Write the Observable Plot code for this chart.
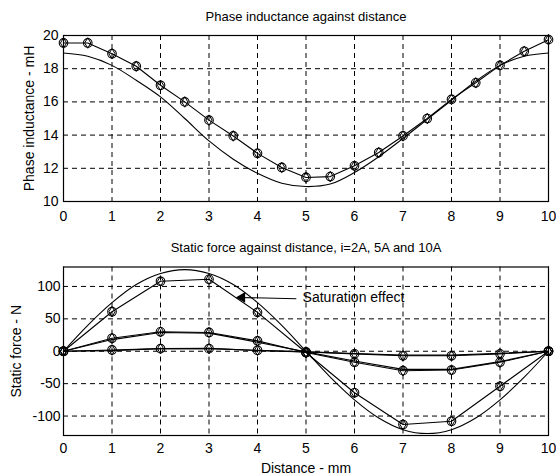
<!DOCTYPE html>
<html>
<head>
<meta charset="utf-8">
<script src="https://cdn.jsdelivr.net/npm/d3@7"></script>
<script src="https://cdn.jsdelivr.net/npm/@observablehq/plot@0.6"></script>
<style>
  html, body { margin: 0; padding: 0; background: #fff; }
  #chart { width: 556px; height: 475px; position: relative; overflow: hidden; }
  #chart svg { display: block; }
</style>
</head>
<body>
<div id="chart"></div>
<script>
// ---------- data ----------
const topTitle = "Phase inductance against distance";
const topYLabel = "Phase inductance - mH";
const bottomTitle = "Static force against distance, i=2A, 5A and 10A";
const bottomYLabel = "Static force - N";
const xLabel = "Distance - mm";

const xTicks = [0, 1, 2, 3, 4, 5, 6, 7, 8, 9, 10];
const inductanceTicks = [10, 12, 14, 16, 18, 20];
const forceTicks = [-100, -50, 0, 50, 100];

// inductance (mH) at half-mm steps
const distHalf = [0, 0.5, 1, 1.5, 2, 2.5, 3, 3.5, 4, 4.5, 5, 5.5, 6, 6.5, 7, 7.5, 8, 8.5, 9, 9.5, 10];
const inductanceMeasured = [19.55, 19.55, 18.9, 18.15, 17.0, 16.0, 14.9, 13.95, 12.9, 12.05, 11.45, 11.5, 12.15, 12.95, 13.95, 15.0, 16.15, 17.15, 18.2, 19.05, 19.75];
const inductanceComputed = [18.95, 18.75, 18.2, 17.3, 16.3, 15.0, 13.65, 12.55, 11.7, 11.1, 10.9, 11.05, 11.75, 12.7, 13.8, 14.95, 16.1, 17.25, 18.2, 18.75, 18.95];

// static force (N) at whole-mm steps
const distInt = [0, 1, 2, 3, 4, 5, 6, 7, 8, 9, 10];
const force10Measured = [0, 61, 108, 111, 60, -2, -64, -113, -108, -54, 0];
const force5Measured = [0, 20, 30, 29, 16, -2, -17, -30, -29, -17, 0];
const force5Computed = [0, 18, 29, 28, 14, -1, -15, -28, -28, -16, 0];
const force2Measured = [0, 2, 4, 4, 1.5, -1, -4, -7, -7, -4, 0];
const force2Computed = [0, 1, 4, 4.5, 1, -1, -3.5, -6, -6, -3, 0];
// 10 A without saturation, half-mm steps
const force10Computed = [0, 40, 75, 103, 120, 126, 120, 103, 75, 40, 0, -40, -75, -103, -121, -127, -121, -103, -75, -40, 0];

// annotation
const noteText = ["Saturation effect"];
const noteX = [4.93], noteY = [83];
const arrowX1 = [4.8], arrowY1 = [81], arrowX2 = [3.62], arrowY2 = [83];

// ---------- drawing ----------
const font = "'Liberation Sans', Arial, sans-serif";
const gridStyle = {stroke: "black", strokeOpacity: 1, strokeWidth: 1, strokeDasharray: "5,4"};
const lineStyle = {stroke: "black", strokeWidth: 1.1};

function markers(xs, ys) {
  return [
    Plot.dot(ys, {x: xs, y: ys, r: 4.3, symbol: "circle", stroke: "black", strokeWidth: 1.1, fill: "none"}),
    Plot.dot(ys, {x: xs, y: ys, r: 3.2, symbol: "diamond", stroke: "black", strokeWidth: 1, fill: "none"})
  ];
}

const topPlot = Plot.plot({
  width: 556, height: 235,
  marginTop: 35, marginBottom: 34, marginLeft: 63, marginRight: 8,
  style: {fontFamily: font, fontSize: "14px", color: "black", background: "white", overflow: "visible"},
  x: {domain: [0, 10], ticks: xTicks, tickSize: 0, tickPadding: 10, label: null, tickFormat: d => String(d)},
  y: {domain: [10, 20], ticks: inductanceTicks, tickSize: 0, tickPadding: 5, label: null, tickFormat: d => String(d)},
  marks: [
    Plot.gridX(xTicks, gridStyle),
    Plot.gridY(inductanceTicks, gridStyle),
    Plot.frame({stroke: "black", strokeWidth: 1.2}),
    Plot.line(inductanceComputed, {x: distHalf, y: inductanceComputed, curve: "catmull-rom", ...lineStyle}),
    Plot.line(inductanceMeasured, {x: distHalf, y: inductanceMeasured, ...lineStyle}),
    ...markers(distHalf, inductanceMeasured),
    Plot.text([topTitle], {frameAnchor: "top", lineAnchor: "middle", dy: -19, fontSize: 13}),
    Plot.text([topYLabel], {frameAnchor: "left", textAnchor: "middle", lineAnchor: "middle", rotate: -90, dx: -34, fontSize: 14})
  ]
});

const bottomPlot = Plot.plot({
  width: 556, height: 240,
  marginTop: 31.5, marginBottom: 40, marginLeft: 63, marginRight: 8,
  style: {fontFamily: font, fontSize: "14px", color: "black", background: "white", overflow: "visible"},
  x: {domain: [0, 10], ticks: xTicks, tickSize: 0, tickPadding: 8, label: null, tickFormat: d => String(d)},
  y: {domain: [-130, 130], ticks: forceTicks, tickSize: 0, tickPadding: 3, label: null, tickFormat: d => String(d)},
  marks: [
    Plot.gridX(xTicks, gridStyle),
    Plot.gridY(forceTicks, gridStyle),
    Plot.frame({stroke: "black", strokeWidth: 1.2}),
    Plot.line(force10Computed, {x: distHalf, y: force10Computed, curve: "catmull-rom", ...lineStyle}),
    Plot.line(force10Measured, {x: distInt, y: force10Measured, ...lineStyle}),
    Plot.line(force5Computed, {x: distInt, y: force5Computed, ...lineStyle}),
    Plot.line(force5Measured, {x: distInt, y: force5Measured, ...lineStyle}),
    Plot.line(force2Computed, {x: distInt, y: force2Computed, ...lineStyle}),
    Plot.line(force2Measured, {x: distInt, y: force2Measured, ...lineStyle}),
    ...markers(distInt, force10Measured),
    ...markers(distInt, force5Measured),
    ...markers(distInt, force2Measured),
    Plot.link(noteText, {x1: arrowX1, y1: arrowY1, x2: arrowX2, y2: arrowY2, stroke: "black", strokeWidth: 1.1}),
    Plot.dot(noteText, {x: arrowX2, y: arrowY2, symbol: "triangle", r: 3, rotate: -90, fill: "black", stroke: "black", dx: 3}),
    Plot.text(noteText, {x: noteX, y: noteY, text: d => d, textAnchor: "start", fontSize: 14}),
    Plot.text([bottomTitle], {frameAnchor: "top", lineAnchor: "middle", dy: -19, fontSize: 13}),
    Plot.text([bottomYLabel], {frameAnchor: "left", textAnchor: "middle", lineAnchor: "middle", rotate: -90, dx: -47, fontSize: 14}),
    Plot.text([xLabel], {frameAnchor: "bottom", lineAnchor: "middle", dy: 33, fontSize: 14})
  ]
});

const chart = document.getElementById("chart");
chart.appendChild(topPlot);
chart.appendChild(bottomPlot);
</script>
</body>
</html>
